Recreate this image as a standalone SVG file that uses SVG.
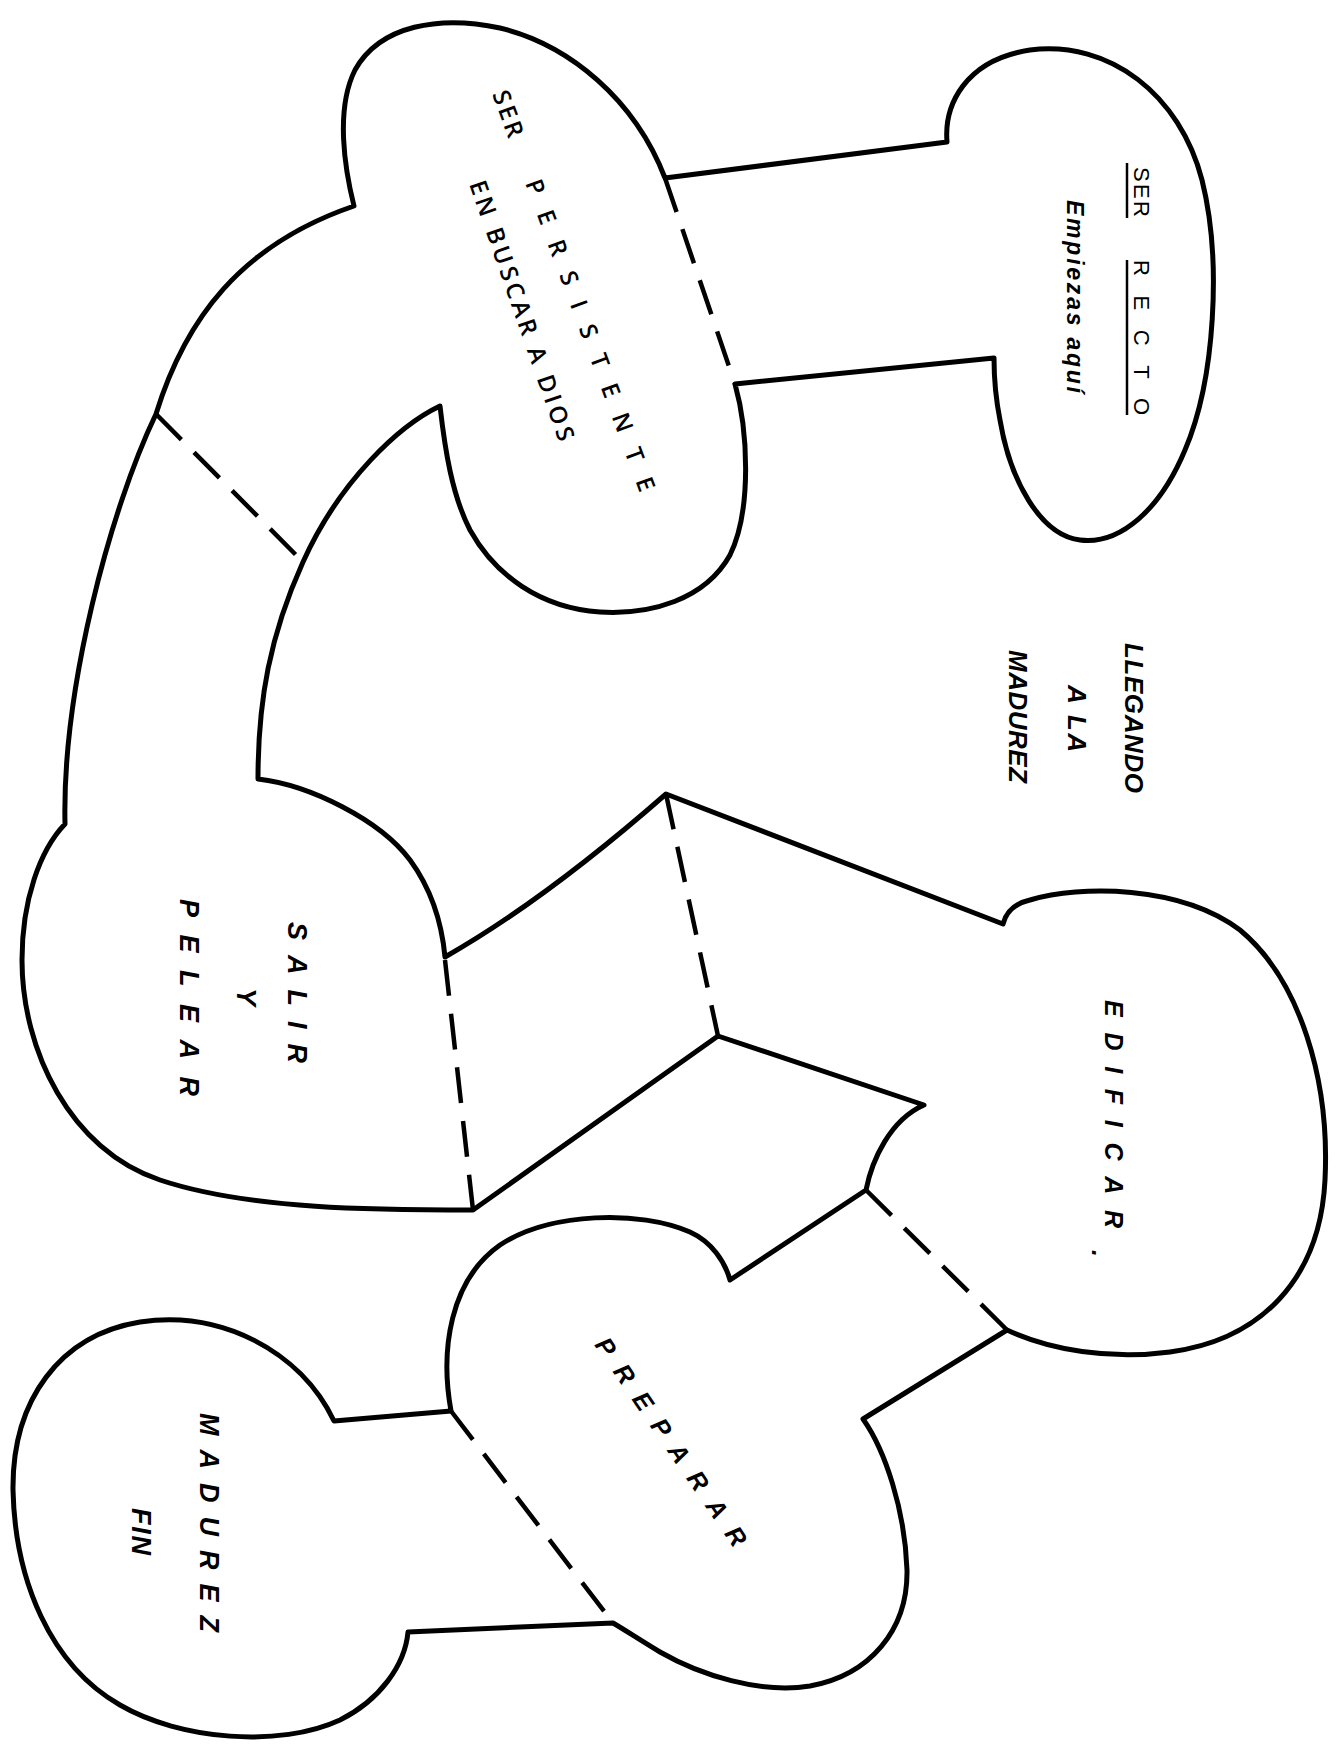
<svg xmlns="http://www.w3.org/2000/svg" width="1338" height="1745" viewBox="0 0 1338 1745">
<style>
.outline{fill:none;stroke:#000;stroke-width:5;stroke-linejoin:round;stroke-linecap:round}
.dash{fill:none;stroke:#000;stroke-width:4.5;stroke-dasharray:36 18;stroke-linecap:butt}
.ul{stroke:#000;stroke-width:2.5}
text{font-family:"Liberation Sans",Arial,sans-serif;fill:#000}
.up{font-size:22px}
.sb{font-family:"Open Sans","Liberation Sans",sans-serif;font-weight:600;font-size:24px}
.bi{font-weight:bold;font-style:italic;font-size:26px}
</style>
<rect width="1338" height="1745" fill="#fff"/>
<g id="outline">
<path class="outline" d="M665,178 L947,142
C944,105 965,60 1030,50 C1110,40 1180,95 1202,180 C1222,260 1215,380 1185,450 C1160,510 1120,545 1080,540 C1040,535 1010,480 1000,420 C995,395 994,375 994,358
L735,384
C748,430 752,510 730,555 C705,600 650,615 600,612 C540,608 495,575 470,530 C452,495 445,450 440,406
C400,425 340,480 303,562 C270,635 258,700 258,779
C310,785 380,820 410,860 C432,890 442,925 445,957
Q545,900 666,794
L1003,924 Q1008,905 1030,900
C1080,885 1180,885 1240,930 C1300,980 1330,1080 1325,1180 C1320,1280 1260,1340 1170,1352 C1110,1360 1050,1350 1007,1330
L863,1419
C885,1450 905,1510 907,1570 C908,1630 870,1675 810,1686 C760,1694 700,1675 660,1652 C640,1640 625,1630 613,1623
L408,1632
C405,1665 380,1700 340,1720 C280,1748 180,1740 120,1705 C50,1665 15,1580 13,1490 C12,1400 60,1335 140,1322 C220,1310 300,1350 334,1421
L451,1411
C440,1350 450,1280 500,1245 C550,1212 640,1210 690,1232 C712,1242 725,1262 730,1280
L866,1190
C872,1160 890,1120 924,1105
L718,1036
L473,1210
C380,1210 250,1210 160,1180 C70,1150 22,1050 22,960 C22,900 40,850 65,824
C62,690 110,510 156,414 C185,320 240,245 354,206
C345,170 335,110 355,70 C380,25 440,15 500,28 C570,45 635,100 665,178 Z"/>
</g>
<g id="connectors">
<path class="dash" d="M665,178 L735,384"/>
<path class="dash" d="M156,414 L303,562"/>
<path class="dash" d="M445,960 L473,1210"/>
<path class="dash" d="M666,794 L718,1036"/>
<path class="dash" d="M866,1190 L1007,1330"/>
<path class="dash" d="M451,1411 L613,1623"/>
</g>
<g id="node-ser-recto">
<text class="up" transform="translate(1134,167) rotate(90)" textLength="50" lengthAdjust="spacing">SER</text>
<text class="up" transform="translate(1134,260) rotate(90)" textLength="155" lengthAdjust="spacing">RECTO</text>
<line class="ul" x1="1127" y1="163" x2="1127" y2="218"/>
<line class="ul" x1="1127" y1="260" x2="1127" y2="415"/>
<text class="bi" style="font-size:23px" transform="translate(1067,200) rotate(90)" textLength="193" lengthAdjust="spacing">Empiezas aquí</text>
</g>
<g id="node-persistente">
<text class="sb" transform="translate(492,94) rotate(69.7)" textLength="48" lengthAdjust="spacing">SER</text>
<text class="sb" transform="translate(525,183) rotate(69.7)" textLength="331" lengthAdjust="spacing">PERSISTENTE</text>
<text class="sb" transform="translate(469,184) rotate(70.8)" textLength="274" lengthAdjust="spacing">EN BUSCAR A DIOS</text>
</g>
<g id="node-llegando">
<text class="bi" transform="translate(1125,643) rotate(90)" textLength="150" lengthAdjust="spacing">LLEGANDO</text>
<text class="bi" transform="translate(1068,685) rotate(90)" textLength="67" lengthAdjust="spacing">A LA</text>
<text class="bi" transform="translate(1009,650) rotate(90)" textLength="133" lengthAdjust="spacing">MADUREZ</text>
</g>
<g id="node-salir">
<text class="bi" style="font-size:27px" transform="translate(288,922) rotate(90)" textLength="141" lengthAdjust="spacing">SALIR</text>
<text class="bi" style="font-size:27px" transform="translate(237,988) rotate(90)">Y</text>
<text class="bi" style="font-size:27px" transform="translate(180,899) rotate(90)" textLength="197" lengthAdjust="spacing">PELEAR</text>
</g>
<g id="node-edificar">
<text class="bi" style="font-size:25px" transform="translate(1105,1000) rotate(90)" textLength="228" lengthAdjust="spacing">EDIFICAR</text>
<text class="bi" style="font-size:25px" transform="translate(1092,1250) rotate(90)">.</text>
</g>
<g id="node-preparar">
<text class="bi" style="font-size:25px" transform="translate(594,1345) rotate(55.5)" textLength="247" lengthAdjust="spacing">PREPARAR</text>
</g>
<g id="node-madurez-fin">
<text class="bi" style="font-size:27px" transform="translate(200,1413) rotate(90)" textLength="219" lengthAdjust="spacing">MADUREZ</text>
<text class="bi" style="font-size:27px" transform="translate(132,1508) rotate(90)" textLength="47" lengthAdjust="spacing">FIN</text>
</g>
</svg>
